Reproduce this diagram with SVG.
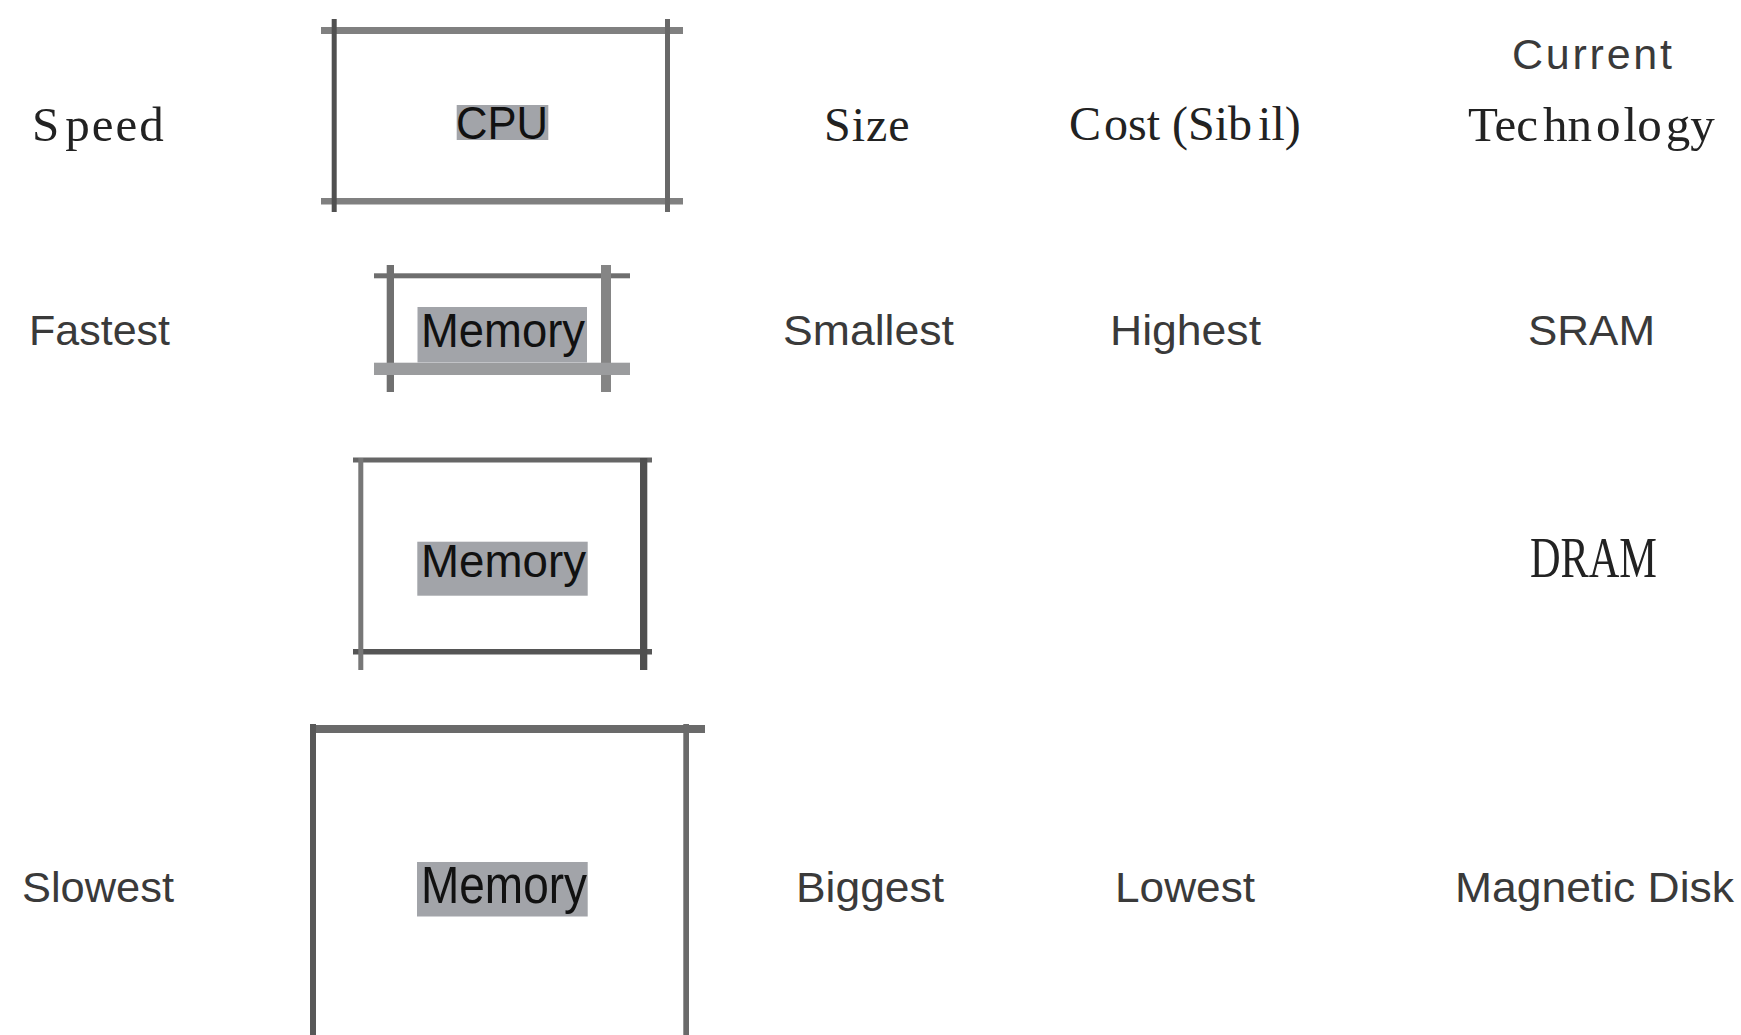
<svg xmlns="http://www.w3.org/2000/svg" width="1741" height="1035" viewBox="0 0 1741 1035">
<style>
.serif{font-family:"Liberation Serif","Times New Roman",serif;fill:#222}
.sans{font-family:"Liberation Sans",Arial,sans-serif;fill:#3a3a3a;font-size:43px}
.mem{font-family:"Liberation Sans",Arial,sans-serif;fill:#111}
.hl{fill:#a2a4a9}
</style>
<rect width="1741" height="1035" fill="#fff"/>

<g id="headers">
<text class="serif" x="32" y="141" font-size="49" dx="0 6 2 2 2">Speed</text>
<text class="serif" x="824" y="141" font-size="48" letter-spacing="1">Size</text>
<text class="serif" x="1069" y="140" font-size="48" dx="0 3 0 0 0 0 0 0 0 6 0 0">Cost (Sibil)</text>
<text class="sans" x="1512" y="69" font-size="44" fill="#1e1e1e" textLength="160" lengthAdjust="spacing">Current</text>
<text class="serif" x="1468" y="141" font-size="49" dx="0 0 0 5 0 4 3 0 4 0">Technology</text>
</g>

<g id="cpu">
<rect x="321" y="27" width="362" height="7" fill="#808080"/>
<rect x="321" y="198" width="362" height="6.5" fill="#808080"/>
<rect x="331.7" y="19" width="5" height="193" fill="#505050"/>
<rect x="665" y="19" width="5" height="193" fill="#686868"/>
<rect class="hl" x="456.7" y="105" width="91.6" height="35"/>
<text class="mem" x="456" y="139.3" font-size="46" textLength="92" lengthAdjust="spacingAndGlyphs">CPU</text>
</g>

<g id="sram-row">
<text class="sans" x="29" y="345" textLength="141" lengthAdjust="spacingAndGlyphs">Fastest</text>
<rect x="374" y="273.3" width="256" height="5" fill="#6e6e6e"/>
<rect x="386.7" y="265" width="7.3" height="127" fill="#707070"/>
<rect x="601" y="265" width="10" height="127" fill="#858585"/>
<rect x="374" y="362.7" width="256" height="12.3" fill="#9b9c9e"/>
<rect class="hl" x="417.5" y="307" width="169.5" height="55.5"/>
<text class="mem" x="421" y="346.5" font-size="48" textLength="164" lengthAdjust="spacingAndGlyphs">Memory</text>
<text class="sans" x="783" y="345" textLength="171" lengthAdjust="spacingAndGlyphs">Smallest</text>
<text class="sans" x="1110" y="345" textLength="151" lengthAdjust="spacingAndGlyphs">Highest</text>
<text class="sans" x="1528" y="345" textLength="127" lengthAdjust="spacingAndGlyphs">SRAM</text>
</g>

<g id="dram-row">
<rect x="353" y="457.5" width="299" height="5" fill="#666"/>
<rect x="353" y="649" width="299" height="5.5" fill="#555"/>
<rect x="358.3" y="458" width="5" height="212" fill="#777"/>
<rect x="640" y="458" width="7.3" height="212" fill="#4f4f4f"/>
<rect class="hl" x="417.3" y="541.7" width="170.4" height="54"/>
<text class="mem" x="421" y="576.7" font-size="46.5" textLength="165" lengthAdjust="spacingAndGlyphs">Memory</text>
<text class="serif" x="1530" y="576.7" font-size="58" textLength="127" lengthAdjust="spacingAndGlyphs">DRAM</text>
</g>

<g id="disk-row">
<text class="sans" x="22" y="902" textLength="152" lengthAdjust="spacingAndGlyphs">Slowest</text>
<rect x="310" y="725" width="395" height="8" fill="#6a6a6a"/>
<rect x="310" y="724" width="6" height="311" fill="#585858"/>
<rect x="683.3" y="724" width="5.7" height="311" fill="#6a6a6a"/>
<rect class="hl" x="417" y="862" width="170.7" height="54.5"/>
<text class="mem" x="421" y="903.3" font-size="51" textLength="166" lengthAdjust="spacingAndGlyphs">Memory</text>
<text class="sans" x="796" y="902" textLength="148" lengthAdjust="spacingAndGlyphs">Biggest</text>
<text class="sans" x="1115" y="902" textLength="140" lengthAdjust="spacingAndGlyphs">Lowest</text>
<text class="sans" x="1455" y="902" textLength="279" lengthAdjust="spacingAndGlyphs">Magnetic Disk</text>
</g>
</svg>
